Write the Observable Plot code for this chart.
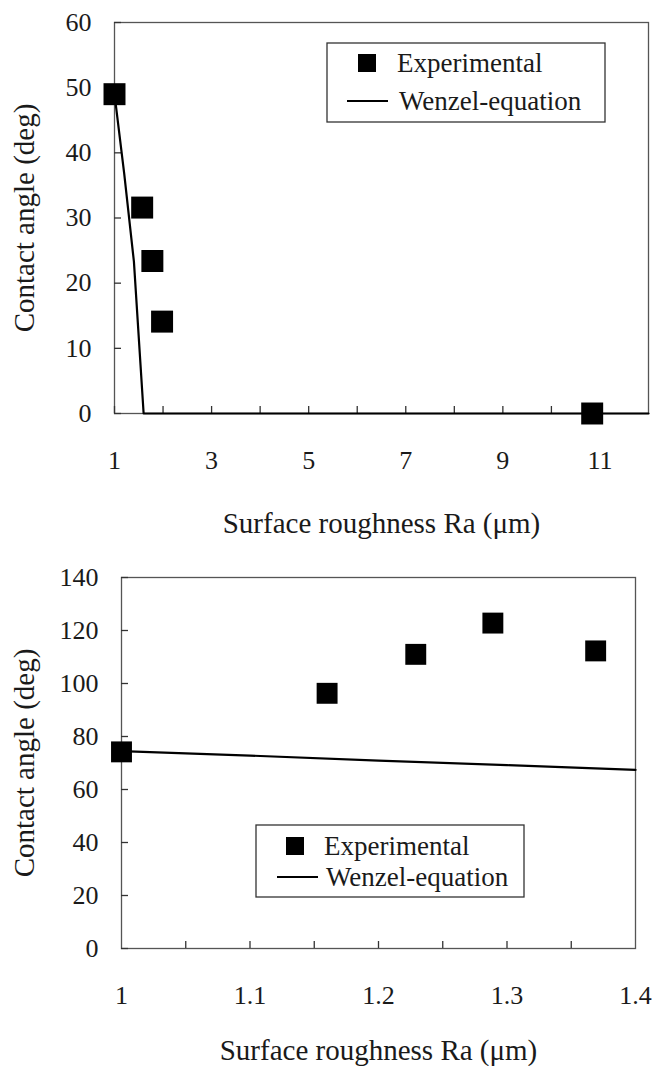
<!DOCTYPE html>
<html><head><meta charset="utf-8">
<script src="https://cdn.jsdelivr.net/npm/d3@7"></script>
<script src="https://cdn.jsdelivr.net/npm/@observablehq/plot@0.6"></script>
<style>
body{margin:0;background:#fff;}
#c1,#c2{width:652px;}
svg{display:block;}
</style></head><body>
<div id="c1"></div><div id="c2"></div>
<script>
// ---- Top panel data ----
const topExpRa = [1.0, 1.57, 1.78, 1.98, 10.84];
const topExpAngle = [49, 31.6, 23.4, 14.1, 0];
const topWenzelRa = [1.0, 1.2, 1.4, 1.6, 12];
const topWenzelAngle = [49, 36.8, 23.3, 0, 0];
const topXTickLabels = [1, 3, 5, 7, 9, 11];
const topXTicks = [1, 2, 3, 4, 5, 6, 7, 8, 9, 10, 11];
const topYTicks = [0, 10, 20, 30, 40, 50, 60];
// ---- Bottom panel data ----
const botExpRa = [1.0, 1.16, 1.229, 1.289, 1.369];
const botExpAngle = [74.2, 96.3, 111, 122.8, 112.3];
const botWenzelRa = [1.0, 1.1, 1.2, 1.3, 1.4];
const botWenzelAngle = [74.5, 72.8, 70.9, 69.2, 67.4];
const botXTickLabels = [1, 1.1, 1.2, 1.3, 1.4];
const botXTicks = [1.05, 1.1, 1.15, 1.2, 1.25, 1.3, 1.35];
const botYTicks = [0, 20, 40, 60, 80, 100, 120, 140];
// ---- Text ----
const legendLabels = ["Experimental", "Wenzel-equation"];
const xTitle = "Surface roughness Ra (μm)";
const yTitle = "Contact angle (deg)";

const FONT = "'Liberation Serif', 'Times New Roman', Times, serif";

function panel(o) {
  const exp = o.expX.map((x, i) => ({x, y: o.expY[i]}));
  const wen = o.wX.map((x, i) => ({x, y: o.wY[i]}));
  const svg = Plot.plot({
    width: 652, height: o.height,
    marginLeft: o.ml, marginRight: o.mr, marginTop: o.mt, marginBottom: o.mb,
    x: {domain: o.xDomain}, y: {domain: o.yDomain},
    style: {fontFamily: FONT, fontSize: "26px", color: "#1a1a1a", background: "white", overflow: "visible"},
    marks: [
      Plot.frame({stroke: "#555", strokeWidth: 1.3}),
      Plot.axisX(o.xTicks, {tickSize: 7, dy: -7, fill: "none", label: null, stroke: "#333", strokeWidth: 1.3}),
      Plot.axisY(o.yTicks, {tickSize: 7, dx: 7, fill: "none", label: null, stroke: "#333", strokeWidth: 1.3}),
      Plot.axisX(o.xLabels, {tickSize: 0, tickPadding: 37, tickFormat: d => `${d}`, fontSize: 26, fontFamily: FONT,
        label: xTitle, labelAnchor: "center", labelArrow: "none", labelOffset: o.xlo}),
      Plot.axisY(o.yTicks, {tickSize: 0, tickPadding: 23, tickFormat: d => `${d}`, fontSize: 26, fontFamily: FONT,
        label: yTitle, labelAnchor: "center", labelArrow: "none", labelOffset: o.ylo}),
      Plot.line(wen, {x: "x", y: "y", stroke: "black", strokeWidth: 2.2}),
      Plot.dot(exp, {x: "x", y: "y", symbol: "square", r: o.r, fill: "black", stroke: "none"})
    ]
  });
  d3.select(svg).selectAll("[aria-label$='axis label'] text").attr("font-size", 29);
  // legend box
  const L = o.legend;
  const g = d3.select(svg).append("g").attr("font-family", FONT).attr("font-size", 27)
    .attr("fill", "#1a1a1a").attr("text-anchor", "start");
  g.append("rect").attr("x", L.x).attr("y", L.y).attr("width", L.w).attr("height", L.h)
    .attr("fill", "white").attr("stroke", "#333").attr("stroke-width", 1.3);
  g.append("rect").attr("x", L.sx - 9).attr("y", L.sy - 9).attr("width", 18).attr("height", 18).attr("fill", "black");
  g.append("text").attr("x", L.tx).attr("y", L.sy).attr("dy", "0.34em").text(legendLabels[0]);
  g.append("line").attr("x1", L.lx1).attr("x2", L.lx2).attr("y1", L.ly).attr("y2", L.ly)
    .attr("stroke", "black").attr("stroke-width", 2);
  g.append("text").attr("x", L.tx + 2).attr("y", L.ly).attr("dy", "0.34em").text(legendLabels[1]);
  return svg;
}

document.getElementById("c1").append(panel({
  expX: topExpRa, expY: topExpAngle, wX: topWenzelRa, wY: topWenzelAngle,
  xDomain: [1, 12], yDomain: [0, 60], xLabels: topXTickLabels, xTicks: topXTicks, yTicks: topYTicks,
  height: 540, ml: 114, mr: 4, mt: 22, mb: 127, r: 12.4, xlo: 119, ylo: 101,
  legend: {x: 327, y: 43, w: 278, h: 79, sx: 367, sy: 63, tx: 397, lx1: 347, lx2: 388, ly: 101}
}));
document.getElementById("c2").append(panel({
  expX: botExpRa, expY: botExpAngle, wX: botWenzelRa, wY: botWenzelAngle,
  xDomain: [1, 1.4], yDomain: [0, 140], xLabels: botXTickLabels, xTicks: botXTicks, yTicks: botYTicks,
  height: 526, ml: 121, mr: 17, mt: 37, mb: 118, r: 11.8, xlo: 111, ylo: 108,
  legend: {x: 256, y: 285, w: 268, h: 72, sx: 295, sy: 306, tx: 324, lx1: 277, lx2: 318, ly: 337}
}));
</script>
</body></html>
